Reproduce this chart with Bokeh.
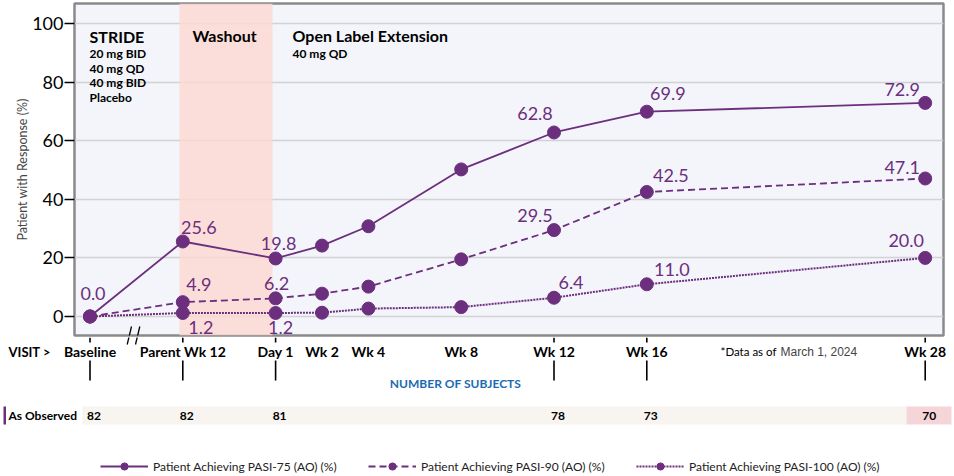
from bokeh.plotting import figure
from bokeh.models import (Range1d, FixedTicker, BoxAnnotation, Label, Legend,
                          LegendItem, ColumnDataSource)
from bokeh.core.properties import value
from bokeh.embed import file_html
from bokeh.resources import INLINE

# ---------------- data ----------------
visits = ["Baseline", "Parent Wk 12", "Day 1", "Wk 2", "Wk 4", "Wk 8", "Wk 12", "Wk 16", "Wk 28"]
visit_pos = [0, 2, 4, 5, 6, 8, 10, 12, 18]
pasi75 = [0.0, 25.6, 19.8, 24.2, 30.8, 50.2, 62.8, 69.9, 72.9]
pasi90 = [0.0, 4.9, 6.2, 7.8, 10.2, 19.5, 29.5, 42.5, 47.1]
pasi100 = [0.0, 1.2, 1.2, 1.3, 2.7, 3.2, 6.4, 11.0, 20.0]
labeled75 = [0, 1, 2, 6, 7, 8]
labeled90 = [1, 2, 6, 7, 8]
labeled100 = [1, 2, 6, 7, 8]
subj_visits = [0, 2, 4, 10, 12, 18]
subj_counts = [82, 82, 81, 78, 73, 70]
y_ticks = [0, 20, 40, 60, 80, 100]
series_names = ["Patient Achieving PASI-75 (AO) (%)",
                "Patient Achieving PASI-90 (AO) (%)",
                "Patient Achieving PASI-100 (AO) (%)"]

# ---------------- layout helpers (page pixels -> data units) ----------------
X0_PX, PX_PER_UNIT = 89.5, 46.4
Y0_PX, PX_PER_PCT = 316.0, 2.93
def xu(px):
    return (px - X0_PX) / PX_PER_UNIT
def yu(py):
    return (Y0_PX - py) / PX_PER_PCT

PURPLE = "#6c2f7d"
FONT = "Lato"

# label offsets (screen px) per labelled point
off75 = [(3, -23), (16, -14), (3, -15), (-19, -19), (21, -18), (-23, -13)]
off90 = [(16, -18), (1, -15), (-19, -15), (24, -16), (-23, -11)]
off100 = [(18, 15), (5, 15), (17, -15), (25, -15), (-19, -17)]

# ================= main chart =================
p = figure(width=954, height=337,
           x_range=Range1d(xu(74), xu(943)), y_range=Range1d(yu(335), yu(3)),
           x_axis_location=None,
           min_border_left=74, min_border_right=11, min_border_top=3, min_border_bottom=2,
           output_backend="svg", toolbar_location=None,
           background_fill_color="#f3f5fb", border_fill_color="white")
p.outline_line_color = "#8a8a8a"
p.outline_line_width = 2.5

# washout band
p.add_layout(BoxAnnotation(left=xu(179), right=xu(272), fill_color="#fbd9d4", fill_alpha=0.85,
                           line_color=None, level="underlay"))

p.xgrid.visible = False
p.ygrid.ticker = FixedTicker(ticks=y_ticks)
p.ygrid.grid_line_color = "#d2d2d2"
p.ygrid.grid_line_width = 1.5

# y axis
p.yaxis.ticker = FixedTicker(ticks=y_ticks)
p.yaxis.axis_line_color = None
p.yaxis.major_tick_out = 10
p.yaxis.major_tick_in = 0
p.yaxis.major_tick_line_width = 1.5
p.yaxis.minor_tick_line_color = None
p.yaxis.major_label_text_font = FONT
p.yaxis.major_label_text_font_size = "18px"
p.yaxis.major_label_text_color = "black"
p.yaxis.major_label_standoff = 1
p.yaxis.axis_label = "Patient with Response (%)"
p.yaxis.axis_label_text_font = FONT
p.yaxis.axis_label_text_font_size = "12.5px"
p.yaxis.axis_label_text_font_style = "normal"
p.yaxis.axis_label_standoff = -1

# series
styles = [dict(line_dash="solid", line_width=1.8),
          dict(line_dash="7 4", line_width=1.8),
          dict(line_dash="2 1", line_width=2)]
all_series = [pasi75, pasi90, pasi100]
all_lab = [labeled75, labeled90, labeled100]
all_off = [off75, off90, off100]
for vals, st, lab_idx, offs in zip(all_series, styles, all_lab, all_off):
    p.line(visit_pos, vals, line_color=PURPLE, **st)
    p.scatter(visit_pos, vals, size=13, fill_color=PURPLE, line_color=PURPLE)
    src = ColumnDataSource(dict(
        x=[visit_pos[i] for i in lab_idx],
        y=[vals[i] for i in lab_idx],
        t=["%.1f" % vals[i] for i in lab_idx],
        dx=[o[0] for o in offs],
        dy=[o[1] for o in offs]))
    p.text(x="x", y="y", text="t", x_offset="dx", y_offset="dy", source=src,
           text_color=PURPLE, text_font=value(FONT), text_font_size="18px",
           text_align="center", text_baseline="middle")

def lab(fig, x, y, text, size, bold=True, color="black", font=FONT, align="left"):
    fig.add_layout(Label(x=x, y=y, text=text, text_font=font, text_font_size=size,
                         text_font_style="bold" if bold else "normal", text_color=color,
                         text_baseline="middle", text_align=align))

lab(p, xu(89), yu(36), "STRIDE", "16px")
for i, t in enumerate(["20 mg BID", "40 mg QD", "40 mg BID", "Placebo"]):
    lab(p, xu(89), yu(53 + i * 14.6), t, "12px")
lab(p, xu(192), yu(35), "Washout", "16px")
lab(p, xu(292), yu(35), "Open Label Extension", "16px")
lab(p, xu(292), yu(53), "40 mg QD", "12px")

# axis break marks (upper part, inside the frame)
brk_x0 = [xu(126.7), xu(135.0)]
brk_x1 = [xu(131.0), xu(139.3)]
p.segment(x0=brk_x0, y0=[yu(344)] * 2, x1=brk_x1, y1=[yu(326)] * 2,
          line_color="black", line_width=1.3)

# ================= lower panel (visit axis, subjects table, legend) =================
q = figure(width=954, height=138, x_range=Range1d(xu(0), xu(954)), y_range=Range1d(475, 337),
           x_axis_type=None, y_axis_type=None, min_border=0, min_border_left=0,
           min_border_right=0, min_border_top=0, min_border_bottom=0,
           output_backend="svg", toolbar_location=None, outline_line_color=None)
q.grid.visible = False

# break marks (lower part)
q.segment(x0=brk_x0, y0=[344] * 2, x1=brk_x1, y1=[326] * 2, line_color="black", line_width=1.3)

n = len(subj_visits)
q.segment(x0=subj_visits, y0=[337] * n, x1=subj_visits, y1=[342] * n,
          line_color="black", line_width=1.6)
q.text(x=visit_pos, y=[351] * len(visit_pos), text=visits, text_font=value(FONT),
       text_font_style="bold", text_font_size="14px", text_align="center",
       text_baseline="middle", text_color="black")
lab(q, xu(8), 351, "VISIT >", "13px")
lab(q, xu(720), 351, "*Data as of", "11.5px", bold=False)
lab(q, xu(780), 351, "March 1, 2024", "12px", bold=False, color="#444444", font="Liberation Sans")

q.segment(x0=subj_visits, y0=[360] * n, x1=subj_visits, y1=[380] * n,
          line_color="black", line_width=1.6)
lab(q, xu(455), 383, "NUMBER OF SUBJECTS", "12px", color="#1c6ab3", align="center")

q.add_layout(BoxAnnotation(left=xu(82), right=xu(906), top=406, bottom=424,
                           fill_color="#f8f4ef", fill_alpha=1, line_color=None, level="underlay"))
q.add_layout(BoxAnnotation(left=xu(906), right=xu(951), top=406, bottom=424,
                           fill_color="#f6d5d9", fill_alpha=1, line_color=None, level="underlay"))
q.add_layout(BoxAnnotation(left=xu(3), right=xu(5.5), top=406, bottom=424,
                           fill_color=PURPLE, fill_alpha=1, line_color=None, level="underlay"))
lab(q, xu(8), 415, "As Observed", "12px")
q.text(x=subj_visits, y=[415] * n, text=[str(c) for c in subj_counts],
       x_offset=4, text_font=value(FONT), text_font_style="bold", text_font_size="12px",
       text_align="center", text_baseline="middle", text_color="black")

items = []
for name, st in zip(series_names, styles):
    rl = q.line([-100, -99], [-100, -100], line_color=PURPLE, **st)
    rs = q.scatter([-100], [-100], size=9, fill_color=PURPLE, line_color=PURPLE)
    items.append(LegendItem(label=name, renderers=[rl, rs]))
leg = Legend(items=items, orientation="horizontal", location=(100, 0),
             glyph_width=48, glyph_height=18, label_standoff=5, spacing=25,
             padding=0, margin=0, border_line_color=None, background_fill_alpha=0,
             label_text_font=FONT, label_text_font_size="12px", label_text_color="#222222",
             label_width=190)
q.add_layout(leg)

open("out.html", "w").write(file_html([p, q], INLINE))
